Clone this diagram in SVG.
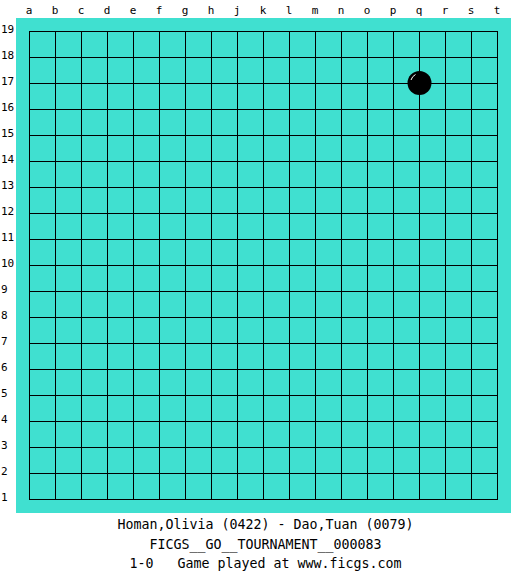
<svg xmlns="http://www.w3.org/2000/svg" width="525" height="575" viewBox="0 0 525 575">
<style>
.grid line{stroke:#000;stroke-width:1}
.col{font-family:"DejaVu Sans Mono","Liberation Mono",monospace;font-size:11px;text-anchor:middle;fill:#000}
.row{font-family:"DejaVu Sans Mono","Liberation Mono",monospace;font-size:11px;text-anchor:start;fill:#000}
.cap{font-family:"DejaVu Sans Mono","Liberation Mono",monospace;font-size:13.3px;text-anchor:middle;fill:#000}
</style>
<rect width="525" height="575" fill="#fff"/>
<g id="board">
<rect x="16" y="18" width="495" height="495" fill="#40e0d0"/>
<g class="grid">
<line x1="29.5" y1="31" x2="29.5" y2="500"/>
<line x1="55.5" y1="31" x2="55.5" y2="500"/>
<line x1="81.5" y1="31" x2="81.5" y2="500"/>
<line x1="107.5" y1="31" x2="107.5" y2="500"/>
<line x1="133.5" y1="31" x2="133.5" y2="500"/>
<line x1="159.5" y1="31" x2="159.5" y2="500"/>
<line x1="185.5" y1="31" x2="185.5" y2="500"/>
<line x1="211.5" y1="31" x2="211.5" y2="500"/>
<line x1="237.5" y1="31" x2="237.5" y2="500"/>
<line x1="263.5" y1="31" x2="263.5" y2="500"/>
<line x1="289.5" y1="31" x2="289.5" y2="500"/>
<line x1="315.5" y1="31" x2="315.5" y2="500"/>
<line x1="341.5" y1="31" x2="341.5" y2="500"/>
<line x1="367.5" y1="31" x2="367.5" y2="500"/>
<line x1="393.5" y1="31" x2="393.5" y2="500"/>
<line x1="419.5" y1="31" x2="419.5" y2="500"/>
<line x1="445.5" y1="31" x2="445.5" y2="500"/>
<line x1="471.5" y1="31" x2="471.5" y2="500"/>
<line x1="497.5" y1="31" x2="497.5" y2="500"/>
<line x1="29" y1="31.5" x2="498" y2="31.5"/>
<line x1="29" y1="57.5" x2="498" y2="57.5"/>
<line x1="29" y1="83.5" x2="498" y2="83.5"/>
<line x1="29" y1="109.5" x2="498" y2="109.5"/>
<line x1="29" y1="135.5" x2="498" y2="135.5"/>
<line x1="29" y1="161.5" x2="498" y2="161.5"/>
<line x1="29" y1="187.5" x2="498" y2="187.5"/>
<line x1="29" y1="213.5" x2="498" y2="213.5"/>
<line x1="29" y1="239.5" x2="498" y2="239.5"/>
<line x1="29" y1="265.5" x2="498" y2="265.5"/>
<line x1="29" y1="291.5" x2="498" y2="291.5"/>
<line x1="29" y1="317.5" x2="498" y2="317.5"/>
<line x1="29" y1="343.5" x2="498" y2="343.5"/>
<line x1="29" y1="369.5" x2="498" y2="369.5"/>
<line x1="29" y1="395.5" x2="498" y2="395.5"/>
<line x1="29" y1="421.5" x2="498" y2="421.5"/>
<line x1="29" y1="447.5" x2="498" y2="447.5"/>
<line x1="29" y1="473.5" x2="498" y2="473.5"/>
<line x1="29" y1="499.5" x2="498" y2="499.5"/>
</g>
</g>
<g id="stone-q17">
<circle cx="419.5" cy="83" r="12" fill="#000"/>
<path d="M 411 80 A 9 9 0 0 1 415.5 74.5" fill="none" stroke="#fff" stroke-width="1"/>
</g>
<g id="col-labels" class="col">
<text x="29" y="14">a</text>
<text x="55" y="14">b</text>
<text x="81" y="14">c</text>
<text x="107" y="14">d</text>
<text x="133" y="14">e</text>
<text x="159" y="14">f</text>
<text x="185" y="14">g</text>
<text x="211" y="14">h</text>
<text x="237" y="14">j</text>
<text x="263" y="14">k</text>
<text x="289" y="14">l</text>
<text x="315" y="14">m</text>
<text x="341" y="14">n</text>
<text x="367" y="14">o</text>
<text x="393" y="14">p</text>
<text x="419" y="14">q</text>
<text x="445" y="14">r</text>
<text x="471" y="14">s</text>
<text x="497" y="14">t</text>
</g>
<g id="row-labels" class="row">
<text x="1" y="33">19</text>
<text x="1" y="59">18</text>
<text x="1" y="85">17</text>
<text x="1" y="111">16</text>
<text x="1" y="137">15</text>
<text x="1" y="163">14</text>
<text x="1" y="189">13</text>
<text x="1" y="215">12</text>
<text x="1" y="241">11</text>
<text x="1" y="267">10</text>
<text x="1" y="293">9</text>
<text x="1" y="319">8</text>
<text x="1" y="345">7</text>
<text x="1" y="371">6</text>
<text x="1" y="397">5</text>
<text x="1" y="423">4</text>
<text x="1" y="449">3</text>
<text x="1" y="475">2</text>
<text x="1" y="501">1</text>
</g>
<g id="caption" class="cap">
<text x="265.5" y="529" xml:space="preserve">Homan,Olivia (0422) - Dao,Tuan (0079)</text>
<text x="265.5" y="549" xml:space="preserve">FICGS__GO__TOURNAMENT__000083</text>
<text x="265.5" y="568" xml:space="preserve">1-0   Game played at www.ficgs.com</text>
</g>
</svg>
